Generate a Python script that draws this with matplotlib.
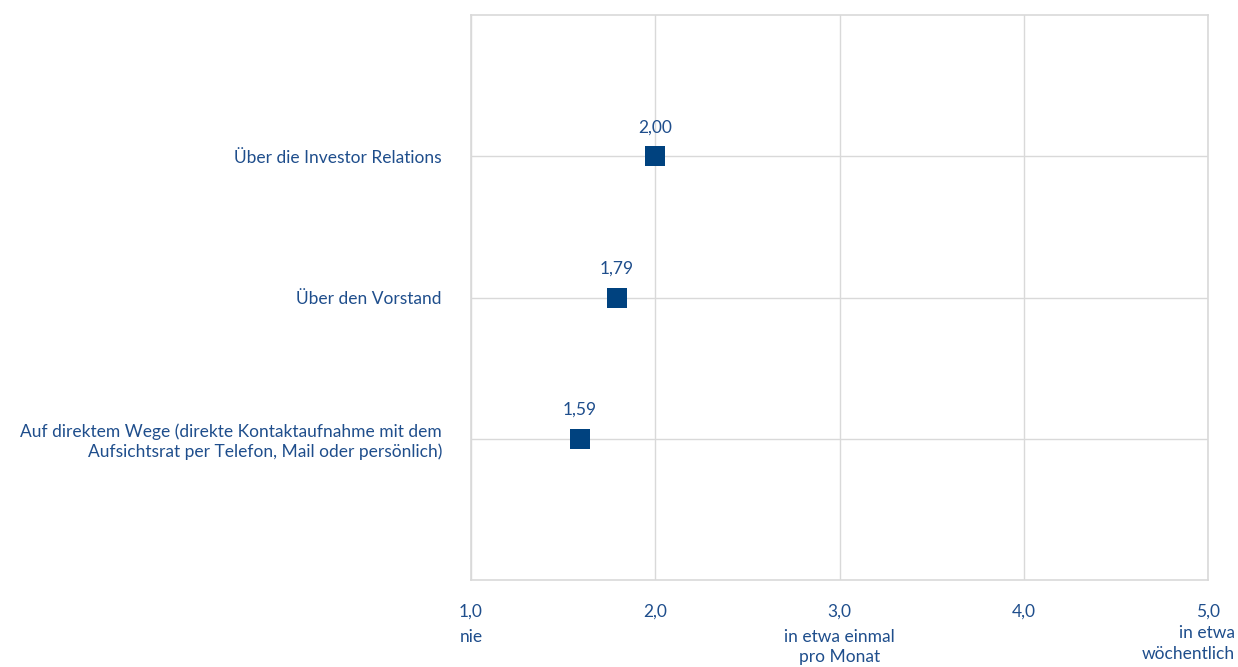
import matplotlib.pyplot as plt

categories = [
    "Über die Investor Relations",
    "Über den Vorstand",
    "Auf direktem Wege (direkte Kontaktaufnahme mit dem\nAufsichtsrat per Telefon, Mail oder persönlich)",
]
values = [2.00, 1.79, 1.59]
x_ticks = [1.0, 2.0, 3.0, 4.0, 5.0]
x_tick_labels = ["1,0", "2,0", "3,0", "4,0", "5,0"]
x_descriptions = {1.0: "nie", 3.0: "in etwa einmal\npro Monat", 5.0: "in etwa\nwöchentlich"}

TEXT = "#1f4e8c"
MARKER = "#00427f"
GRID = "#d9d9d9"

plt.rcParams["font.family"] = ["Lato", "DejaVu Sans"]

fig = plt.figure(figsize=(12.38, 6.67), dpi=100)
ax = fig.add_axes([0.3805, 0.1304, 0.5953, 0.8471])

y_pos = [3, 2, 1]
ax.scatter(values, y_pos, marker="s", s=210, color=MARKER, zorder=3, linewidths=0)
for v, y in zip(values, y_pos):
    ax.annotate(f"{v:.2f}".replace(".", ","), (v, y), xytext=(0, 15),
                textcoords="offset points", ha="center", va="bottom",
                color=TEXT, fontsize=12.5)

ax.set_xlim(1, 5)
ax.set_ylim(0, 4)
ax.set_xticks(x_ticks)
ax.set_xticklabels(x_tick_labels)
ax.set_yticks(y_pos)
ax.set_yticklabels(categories, ha="right", multialignment="right")
ax.tick_params(axis="both", length=0, colors=TEXT, labelsize=12.5)
ax.tick_params(axis="x", pad=17)
ax.tick_params(axis="y", pad=21)
ax.grid(True, color=GRID, linewidth=1)
ax.set_axisbelow(True)
for s in ax.spines.values():
    s.set_color(GRID)
    s.set_linewidth(1.2)

for x, txt in x_descriptions.items():
    if x == 5.0:
        fig.text(1235 / 1238, 1 - 625 / 667, txt, ha="right", va="top",
                 multialignment="right", linespacing=1.35,
                 color=TEXT, fontsize=12.5)
    else:
        ax.annotate(txt, (x, 0), xycoords=("data", "axes fraction"),
                    xytext=(0, -35), textcoords="offset points",
                    ha="center", va="top", linespacing=1.35,
                    color=TEXT, fontsize=12.5)

fig.savefig("out.png", dpi=100)
